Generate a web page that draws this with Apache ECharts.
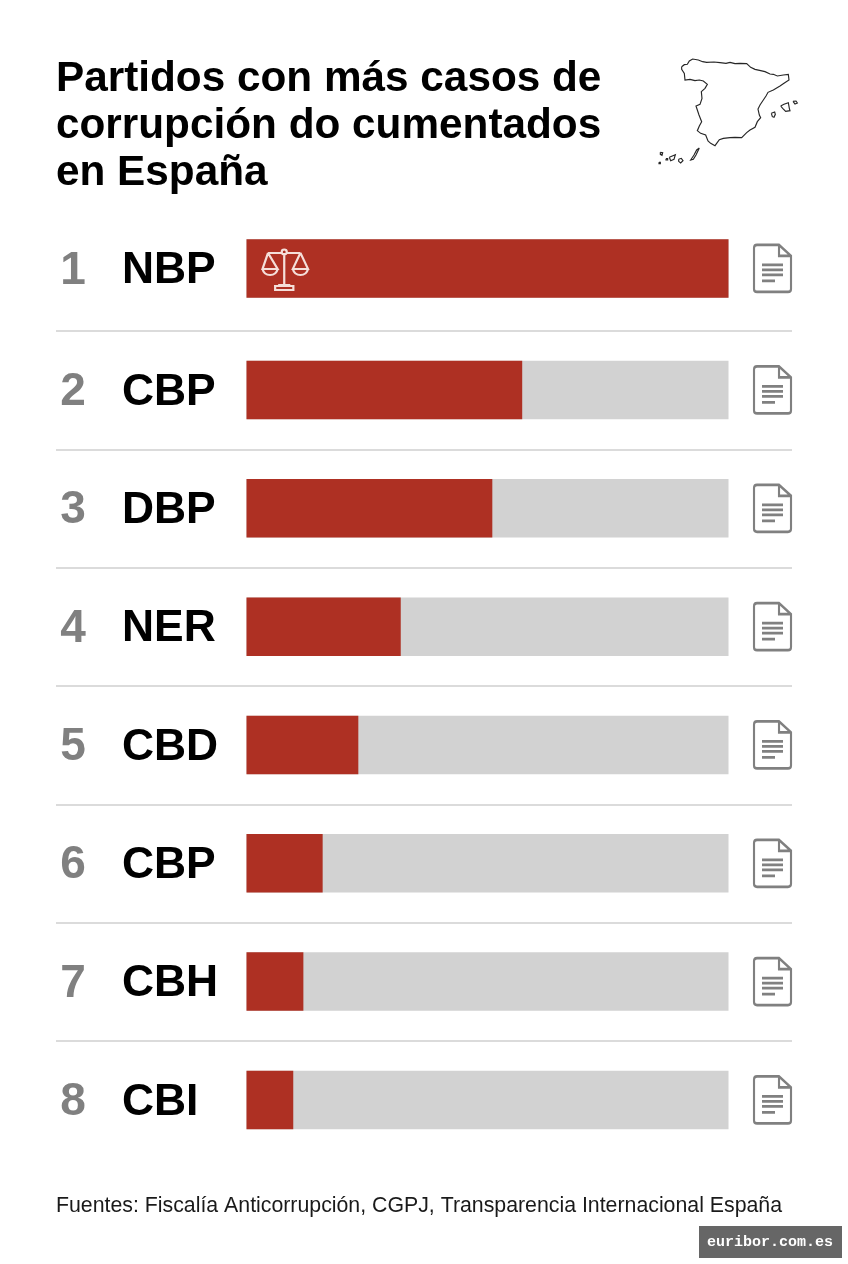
<!DOCTYPE html>
<html lang="es">
<head>
<meta charset="utf-8">
<title>Partidos con más casos de corrupción</title>
<script src="https://cdn.jsdelivr.net/npm/echarts@6/dist/echarts.min.js"></script>
<style>
  html, body { margin: 0; padding: 0; background: #fff; }
  #chart { width: 848px; height: 1264px; }
</style>
</head>
<body>
<div id="chart"></div>
<script>
// Ranking data
const ranks = ['1', '2', '3', '4', '5', '6', '7', '8'];
const parties = ['NBP', 'CBP', 'DBP', 'NER', 'CBD', 'CBP', 'CBH', 'CBI'];
const shares = [100, 57.2, 51, 32, 23.2, 15.8, 11.8, 9.7];
const titleLines = ['Partidos con más casos de', 'corrupción do cumentados', 'en España'];
const sourceNote = 'Fuentes: Fiscalía Anticorrupción, CGPJ, Transparencia Internacional España';
const siteMark = 'euribor.com.es';

const RED = '#ae3023';
const TRACK = '#d2d2d2';
const INK = '#000000';
const FONT = '"Liberation Sans", Arial, sans-serif';

const rowKeys = ranks.map((r, i) => r + ' ' + parties[i]);
const BAND = 118.33;
const DOC_X = 109.13;

// Document glyph shown at the end of each row
const docIcon = 'path://M3 0H25L37 11V44Q37 47 34 47H3Q0 47 0 44V3Q0 0 3 0ZM25 0V11H37M8 20H29M8 25H29M8 30H29M8 36H21';
// Scales of justice emblem inside the leading bar
const scalesIcon = 'path://M22 3V34M6 3H19.5M24.5 3H38M6 3L0.5 19H15.5L6 3M38 3L30.5 19H45.5L38 3M0.5 19Q2 25 8 25Q14 25 15.5 19M30.5 19Q32 25 38 25Q44 25 45.5 19M16 35H28M13 36H31V40H13ZM19.5 2A2.5 2.5 0 1 0 24.5 2A2.5 2.5 0 1 0 19.5 2';

// Outline of the peninsula and the islands
const toMap = pts => pts.map(p => [p[0] / 3 + 640, p[1] / 3 + 40]);
const peninsula = [[125,80],[133,74],[142,73],[148,63],[158,57],[175,60],[188,65],[200,67],[222,66],[240,68],[258,70],[270,67],[285,71],[300,70],[320,71],[332,82],[345,88],[362,92],[375,95],[390,102],[400,103],[412,108],[430,105],[445,103],[447,120],[432,130],[420,138],[400,150],[384,157],[378,168],[370,180],[360,195],[354,207],[358,225],[362,233],[352,245],[345,262],[330,270],[320,278],[305,293],[285,292],[270,293],[250,295],[238,299],[225,317],[212,310],[204,303],[197,285],[182,280],[172,272],[178,258],[185,245],[177,225],[172,210],[168,198],[180,193],[186,175],[184,155],[195,145],[202,133],[190,123],[178,120],[165,122],[150,118],[135,120],[133,100],[125,88],[125,80]];
const islands = [
  [[422,198],[432,193],[445,188],[448,205],[450,212],[437,214],[428,205],[422,198]],
  [[459,184],[468,183],[472,189],[465,192],[459,184]],
  [[394,220],[404,216],[406,223],[402,232],[397,230],[394,220]],
  [[178,324],[170,330],[162,345],[152,360],[160,358],[168,345],[178,324]],
  [[116,358],[124,355],[129,362],[122,369],[116,364],[116,358]],
  [[88,352],[106,344],[102,358],[92,362],[88,352]],
  [[61,337],[68,338],[66,346],[61,343],[61,337]],
  [[78,356],[83,356],[83,360],[78,360],[78,356]],
  [[57,367],[61,367],[61,371],[57,371],[57,367]]
];
const mapGraphics = [peninsula].concat(islands).map(pts => ({
  type: 'polyline',
  silent: true,
  shape: { points: toMap(pts) },
  style: { stroke: '#262626', lineWidth: 1.15, fill: 'none' }
}));

const rowAxis = (gridIndex, keys) => ({
  gridIndex,
  type: 'category',
  inverse: true,
  data: keys,
  axisLine: { show: false },
  axisTick: { show: false },
  splitLine: { show: false },
  axisLabel: {
    align: 'left',
    margin: 190.5,
    formatter: value => {
      const [rank, party] = value.split(' ');
      return '{r|' + rank + '}{p|' + party + '}';
    },
    rich: {
      r: { width: 34, align: 'center', padding: [5, 32, 0, 0], fontFamily: FONT, fontWeight: 'bold', fontSize: 46, color: '#808080' },
      p: { padding: [5, 0, 0, 0], fontFamily: FONT, fontWeight: 'bold', fontSize: 44.4, color: INK }
    }
  }
});

const barSeries = (axisIndex, values) => ({
  type: 'bar',
  xAxisIndex: axisIndex,
  yAxisIndex: axisIndex,
  data: values,
  barWidth: 58.5,
  showBackground: true,
  backgroundStyle: { color: TRACK },
  itemStyle: { color: RED },
  silent: true
});

const docSeries = (axisIndex, keys) => ({
  type: 'scatter',
  xAxisIndex: axisIndex,
  yAxisIndex: axisIndex,
  clip: false,
  data: keys.map(k => [DOC_X, k]),
  symbol: docIcon,
  symbolSize: [37, 47],
  itemStyle: { color: 'rgba(0,0,0,0)', borderColor: '#808080', borderWidth: 2.4, opacity: 1 },
  silent: true
});

const chart = echarts.init(document.getElementById('chart'), null, { renderer: 'canvas' });

chart.setOption({
  animation: false,
  backgroundColor: '#ffffff',
  title: [
    {
      text: titleLines.join('\n'),
      left: 56,
      top: 56,
      padding: 0,
      textStyle: { fontFamily: FONT, fontWeight: 'bold', fontSize: 42.3, lineHeight: 47, color: INK }
    },
    {
      text: sourceNote,
      left: 56,
      top: 1196,
      padding: 0,
      textStyle: { fontFamily: FONT, fontWeight: 'normal', fontSize: 21.3, color: '#1a1a1a' }
    }
  ],
  grid: [
    { left: 246.5, top: 209.3, width: 482, height: BAND },
    { left: 246.5, top: 330.8, width: 482, height: BAND * 7 },
    { left: 56, top: 331 - BAND, width: 736, height: BAND * 8 }
  ],
  xAxis: [
    { gridIndex: 0, type: 'value', min: 0, max: 100, show: false },
    { gridIndex: 1, type: 'value', min: 0, max: 100, show: false },
    { gridIndex: 2, type: 'value', min: 0, max: 1, show: false }
  ],
  yAxis: [
    rowAxis(0, rowKeys.slice(0, 1)),
    rowAxis(1, rowKeys.slice(1)),
    {
      gridIndex: 2,
      type: 'category',
      inverse: true,
      data: rowKeys,
      axisLine: { show: false },
      axisTick: { show: false },
      axisLabel: { show: false },
      splitLine: { show: true, showMinLine: false, showMaxLine: false, lineStyle: { color: '#cfcfcf', width: 1.5 } }
    }
  ],
  series: [
    barSeries(0, shares.slice(0, 1)),
    barSeries(1, shares.slice(1)),
    {
      type: 'scatter',
      xAxisIndex: 0,
      yAxisIndex: 0,
      data: [[8.04, rowKeys[0]]],
      symbol: scalesIcon,
      symbolSize: [45.5, 40.5],
      symbolOffset: [0, 1.2],
      itemStyle: { color: 'rgba(0,0,0,0)', borderColor: '#f5ded9', borderWidth: 2.1, opacity: 1 },
      silent: true
    },
    {
      type: 'scatter',
      xAxisIndex: 2,
      yAxisIndex: 2,
      data: [],
      silent: true
    },
    docSeries(0, rowKeys.slice(0, 1)),
    docSeries(1, rowKeys.slice(1))
  ],
  graphic: mapGraphics.concat([
    {
      type: 'rect',
      silent: true,
      shape: { x: 699, y: 1226, width: 143, height: 32 },
      style: { fill: '#666666' }
    },
    {
      type: 'text',
      silent: true,
      x: 770,
      y: 1242,
      style: {
        text: siteMark,
        fill: '#ffffff',
        font: 'bold 15px "Liberation Mono", monospace',
        textAlign: 'center',
        textVerticalAlign: 'middle'
      }
    }
  ])
});
</script>
</body>
</html>
